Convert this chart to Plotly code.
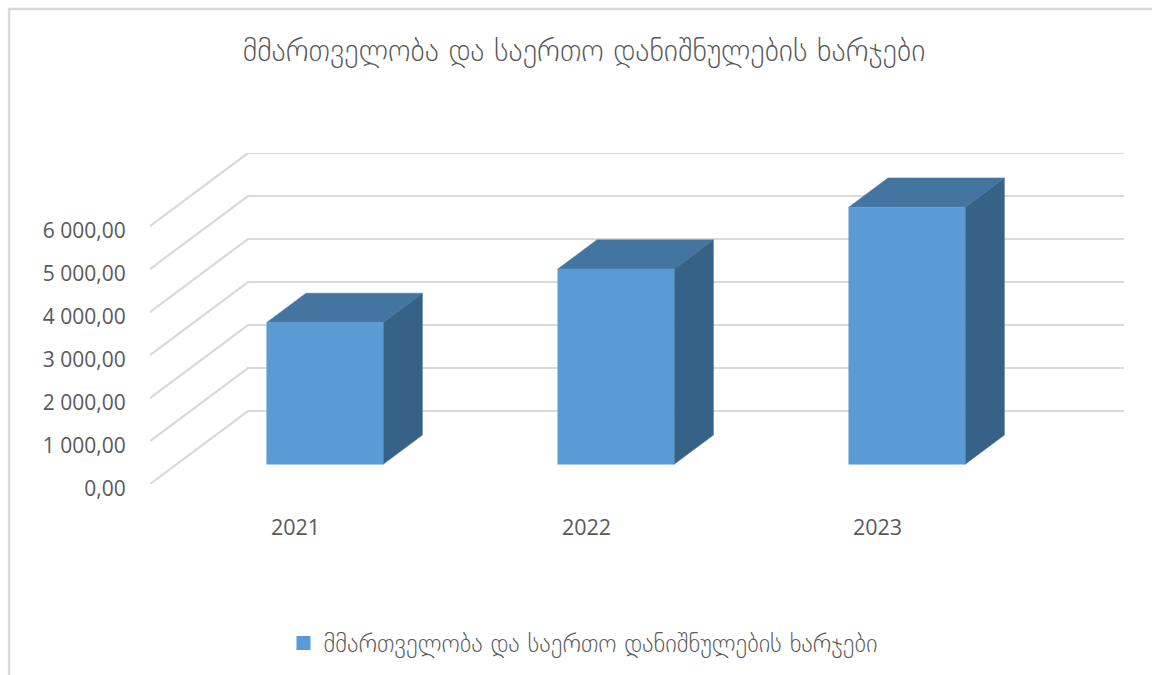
import plotly.graph_objects as go

TITLE = "მმართველობა და საერთო დანიშნულების ხარჯები"
years = ["2021", "2022", "2023"]
values = [3300, 4540, 5980]
y_ticks = [0, 1000, 2000, 3000, 4000, 5000, 6000]
y_labels = ["0,00", "1 000,00", "2 000,00", "3 000,00", "4 000,00", "5 000,00", "6 000,00"]

FRONT, TOP, SIDE = "#5B9BD5", "#4475A0", "#376287"
GRID, TEXT = "#D9D9D9", "#595959"
W, H = 1152, 675
X0, X1, Y0, YTOP = 150, 1124, 484, 153   # plot box in pixels
SLOT = 291.0                              # px per category
PX_PER_UNIT = 43.0 / 1000.0               # px per value unit
DEPTH_X = 98 / SLOT                       # depth vector in axis units
DEPTH_Y = 73 / PX_PER_UNIT
X_MIN = -0.5
X_MAX = X_MIN + (X1 - X0) / SLOT
WALL_END = X_MAX - DEPTH_X
BAR_W = 0.4
BAR_NUDGE = 3 / SLOT
GAP_D, BAR_D = 0.27, 0.4

def pt(cat, off, depth, val):
    return cat + off + depth * DEPTH_X, val + depth * DEPTH_Y

def poly(points, color, name):
    xs = [p[0] for p in points] + [points[0][0]]
    ys = [p[1] for p in points] + [points[0][1]]
    return go.Scatter(x=xs, y=ys, mode="lines", fill="toself", fillcolor=color,
                      line=dict(color=color, width=0.5), hoverinfo="skip",
                      showlegend=False, name=name)

fig = go.Figure()
# wall grid
for t in y_ticks:
    a, b, c = pt(X_MIN, 0, 0, t), pt(X_MIN, 0, 1, t), pt(WALL_END, 0, 1, t)
    fig.add_trace(go.Scatter(x=[a[0], b[0], c[0]], y=[a[1], b[1], c[1]], mode="lines",
                             line=dict(color=GRID, width=2.2), hoverinfo="skip", showlegend=False))
# bars
for i, v in enumerate(values):
    l, r = -BAR_W / 2 + BAR_NUDGE, BAR_W / 2 + BAR_NUDGE
    d0, d1 = GAP_D, GAP_D + BAR_D
    fig.add_trace(poly([pt(i, r, d0, 0), pt(i, r, d1, 0), pt(i, r, d1, v), pt(i, r, d0, v)], SIDE, "side"))
    fig.add_trace(poly([pt(i, l, d0, v), pt(i, r, d0, v), pt(i, r, d1, v), pt(i, l, d1, v)], TOP, "top"))
    fig.add_trace(poly([pt(i, l, d0, 0), pt(i, r, d0, 0), pt(i, r, d0, v), pt(i, l, d0, v)], FRONT, "front"))
# legend
fig.add_trace(go.Scatter(x=[None], y=[None], mode="markers", name=TITLE,
                         marker=dict(symbol="square", size=14, color=FRONT)))

fig.update_layout(
    width=W, height=H, margin=dict(l=0, r=0, t=0, b=0, autoexpand=False),
    paper_bgcolor="white", plot_bgcolor="white",
    font=dict(family="Open Sans, DejaVu Sans, sans-serif", color=TEXT),
    title=dict(text=TITLE, x=584 / W, xanchor="center", y=1 - 50 / H, yanchor="middle",
               font=dict(size=30.2, family="DejaVu Sans", weight=200, color=TEXT)),
    showlegend=True,
    legend=dict(x=583 / W, xanchor="center", y=1 - 643 / H, yanchor="middle",
                orientation="h", font=dict(size=24.5, family="DejaVu Sans", weight=200, color=TEXT),
                itemwidth=30, bgcolor="rgba(0,0,0,0)"),
    xaxis=dict(domain=[X0 / W, X1 / W], range=[X_MIN, X_MAX],
               tickmode="array", tickvals=[0, 1, 2], ticktext=years,
               showgrid=False, zeroline=False, showline=False,
               ticks="outside", ticklen=24, tickcolor="rgba(0,0,0,0)",
               tickfont=dict(size=21.5), anchor="y"),
    yaxis=dict(domain=[1 - Y0 / H, 1 - YTOP / H], range=[0, (Y0 - YTOP) / PX_PER_UNIT],
               tickmode="array", tickvals=y_ticks, ticktext=y_labels,
               showgrid=False, zeroline=False, showline=False,
               ticks="outside", ticklen=19, tickcolor="rgba(0,0,0,0)",
               tickfont=dict(size=21), ticklabelshift=5, anchor="x"),
    shapes=[
        dict(type="line", xref="paper", yref="paper", x0=9 / W, x1=9 / W, y0=0, y1=1 - 8 / H,
             line=dict(color=GRID, width=2.5)),
        dict(type="line", xref="paper", yref="paper", x0=8 / W, x1=1, y0=1 - 9 / H, y1=1 - 9 / H,
             line=dict(color=GRID, width=2.5)),
    ],
)
fig.write_html("out.html", post_script="document.body.style.margin='0';", config=dict(displayModeBar=False))
